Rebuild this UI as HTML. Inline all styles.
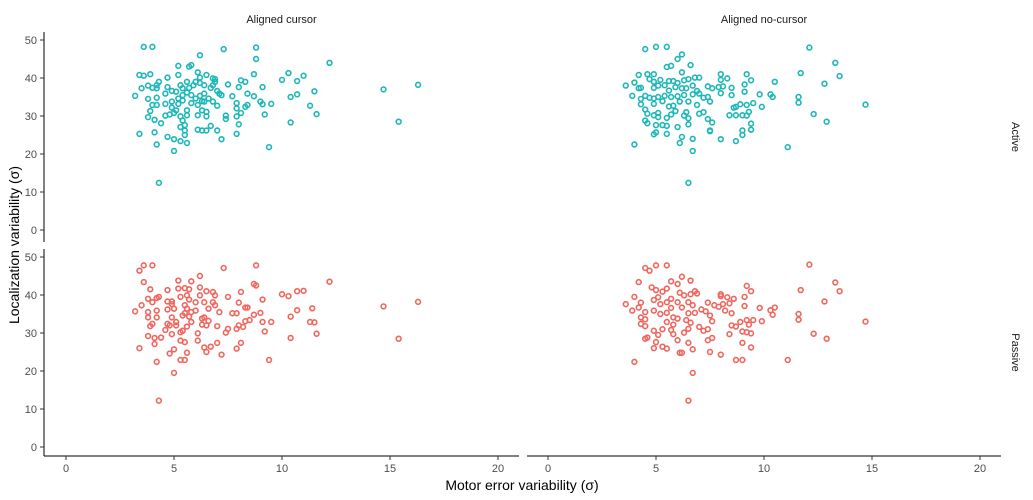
<!DOCTYPE html>
<html><head><meta charset="utf-8">
<style>
body{margin:0;background:#fff;}
svg{display:block;font-family:"Liberation Sans",sans-serif;}
</style></head>
<body>
<svg id="chart" width="1033" height="500">
<g id="static"></g>
<g id="marks"></g>
</svg>
<script>
const xTicks = [0, 5, 10, 15, 20];
const yTicks = [0, 10, 20, 30, 40, 50];
const colNames = ["Aligned cursor", "Aligned no-cursor"];
const rowNames = ["Active", "Passive"];

const cursorX = [3.6,4.0,6.2,7.3,8.8,8.8,5.2,5.7,5.8,3.4,3.6,3.9,3.2,3.5,3.8,4.0,4.2,4.3,4.2,4.7,5.2,6.1,6.2,6.5,6.8,6.9,6.9,7.5,8.1,8.3,8.0,9.1,8.7,10.0,10.3,10.7,11.0,7.7,8.4,8.7,9.0,9.1,9.5,10.4,10.7,11.3,7.9,7.9,8.4,8.3,8.1,7.9,7.4,7.4,9.2,8.0,7.9,7.0,7.2,6.7,6.5,6.1,6.3,9.4,10.4,3.4,4.1,4.2,4.7,5.0,5.0,5.3,5.6,5.5,5.5,5.5,5.3,4.4,4.6,3.8,4.1,3.9,4.0,3.8,4.2,4.2,4.6,4.9,4.9,4.8,5.0,5.1,5.3,5.4,5.6,5.6,4.3,5.3,5.4,5.6,5.7,5.9,6.0,6.2,6.4,6.7,7.0,7.2,5.4,5.6,5.8,6.0,6.2,6.4,6.6,6.8,6.3,6.4,7.0,5.2,5.4,5.8,6.1,6.3,6.5,6.1,6.5,6.8,7.1,4.7,4.9,4.6,5.1,5.2,11.6,12.2,14.7,15.4,16.3,11.5];
const cursorY = [48.2,48.2,46.0,47.6,48.0,45.0,43.2,43.0,43.4,40.8,40.6,41.0,35.3,37.3,38.0,37.4,38.1,39.0,37.3,40.1,40.8,41.5,40.1,40.8,39.9,39.7,39.0,38.3,39.4,39.0,37.6,37.6,41.0,39.5,41.3,39.2,40.6,35.2,35.9,35.2,33.8,33.1,33.2,35.0,35.7,32.7,33.4,32.0,32.9,32.4,30.8,29.9,30.1,29.2,30.4,27.8,25.3,26.2,23.9,27.4,26.2,26.4,26.2,21.8,28.3,25.3,25.7,22.5,24.5,23.9,20.8,23.4,22.9,25.0,26.2,27.6,27.1,28.1,30.1,29.7,29.0,31.3,32.9,34.5,34.8,32.9,33.2,33.8,32.2,30.4,30.8,31.5,29.9,28.8,30.2,31.5,12.4,38.1,37.3,39.0,37.4,38.1,39.0,38.7,38.1,37.4,36.6,35.5,35.5,36.2,35.5,34.6,35.3,35.9,34.6,33.8,33.9,33.8,32.7,34.6,34.1,33.4,32.9,31.5,31.1,30.2,29.9,38.1,35.9,37.6,36.6,35.9,36.4,33.2,30.5,44.0,37.0,28.5,38.2,36.5];

const noCursorX = [4.5,5.0,5.5,6.0,6.2,5.5,5.7,6.6,4.2,4.6,4.9,4.7,4.9,5.2,3.6,4.0,4.2,4.3,3.9,4.3,4.5,4.7,4.9,5.1,4.9,5.1,5.4,5.6,5.8,6.0,6.2,6.3,6.5,6.8,7.0,6.7,6.9,6.4,6.2,5.9,5.6,5.4,5.7,6.0,6.3,6.7,7.0,6.5,6.1,5.8,5.6,5.3,4.9,4.3,4.5,4.6,4.5,4.6,4.9,5.1,5.1,5.5,5.7,5.9,6.3,6.4,6.5,6.5,6.0,5.5,5.3,5.0,5.0,4.9,5.5,6.2,6.1,6.7,6.7,6.5,6.9,7.0,7.2,7.4,7.6,7.2,7.4,7.5,7.4,7.6,7.9,8.0,8.0,8.0,8.3,8.1,8.5,8.5,9.1,9.1,9.2,9.4,10.5,10.3,10.4,9.8,9.9,9.5,9.2,8.9,8.6,8.7,8.4,8.7,9.0,9.2,9.3,9.4,9.4,9.0,9.0,8.7,8.0,7.5,7.5,11.1,11.6,11.6,11.7,12.1,12.3,12.8,13.3,13.5,12.9,14.7,4.0];
const noCursorY = [47.6,48.2,48.2,45.0,46.2,42.9,43.2,43.4,40.8,41.0,41.0,39.7,39.0,39.5,38.0,38.8,37.3,37.4,35.3,34.5,35.3,34.8,34.6,35.0,37.4,38.0,38.1,39.2,39.2,38.7,41.5,39.4,39.7,40.1,40.1,38.0,36.6,37.3,37.3,37.6,36.7,35.3,35.0,35.2,35.5,35.7,35.9,33.8,33.8,32.7,32.5,33.9,33.2,33.1,31.7,30.6,28.8,28.1,30.2,30.8,29.7,29.5,30.4,31.3,30.1,31.0,29.4,27.8,27.1,27.4,27.6,27.6,25.7,25.2,25.3,24.5,22.9,24.0,20.8,12.4,32.9,30.6,31.0,29.2,28.3,34.8,35.0,33.8,37.8,37.3,37.6,36.0,41.0,39.5,39.9,37.8,37.4,35.5,36.4,38.3,41.0,39.4,39.0,35.7,35.0,35.7,32.4,33.4,32.9,33.1,32.2,32.4,30.2,30.2,30.2,30.1,31.1,28.0,26.4,26.2,25.0,23.4,23.9,26.2,26.0,21.8,35.0,33.5,41.3,48.0,30.5,38.5,44.0,40.5,28.5,33.0,22.5];

const passiveCursorX = [3.4,3.6,4.0,7.3,8.8,3.6,5.2,5.8,6.2,8.7,8.8,3.9,4.7,5.2,5.5,5.7,6.2,6.5,6.8,6.9,7.5,8.1,9.1,10.0,10.3,10.7,11.0,3.8,4.2,4.3,4.0,3.2,3.5,3.8,4.2,3.8,4.2,4.0,3.9,3.8,4.1,4.1,3.4,4.2,4.3,4.7,4.9,5.3,4.7,4.9,4.7,4.6,4.4,4.8,4.9,5.1,5.3,5.4,5.3,5.5,4.8,5.0,5.6,5.3,5.5,5.0,6.1,6.1,6.4,6.5,6.7,7.0,7.2,8.1,7.9,7.5,7.4,7.9,8.0,8.2,8.3,8.5,8.7,9.0,9.1,9.2,9.5,10.4,10.7,10.4,9.4,11.3,8.0,8.3,8.4,7.7,7.9,7.1,6.9,6.8,6.6,6.4,6.2,6.0,5.7,5.6,5.5,5.6,5.8,6.0,6.3,6.4,6.6,6.3,6.5,7.0,5.7,5.4,5.8,5.6,5.1,4.9,5.5,5.0,11.6,11.5,12.2,14.7,15.4,16.3,11.4];
const passiveCursorY = [46.4,47.8,47.8,47.1,47.8,43.4,43.8,43.6,45.0,42.9,42.5,41.5,41.3,41.7,41.8,41.5,42.0,41.0,40.8,39.9,39.5,40.8,38.8,40.2,39.7,41.0,41.1,39.0,39.2,39.5,38.1,35.7,37.3,35.5,35.9,34.1,34.1,32.4,31.8,29.2,28.7,27.1,26.0,22.4,12.2,38.3,38.3,39.5,36.2,34.1,32.4,30.8,28.8,32.0,29.7,32.0,30.2,30.6,28.0,27.6,24.6,25.7,24.8,22.9,22.9,19.5,29.9,28.0,26.2,25.0,26.4,27.4,24.3,27.4,25.9,31.1,30.1,31.1,32.0,31.6,33.1,33.4,34.8,35.3,32.9,30.4,32.9,34.3,36.0,28.7,22.9,32.9,38.0,36.7,36.7,35.2,35.2,35.5,37.3,38.1,36.4,38.1,39.9,38.1,38.8,39.9,37.3,36.4,35.5,35.9,33.8,34.1,33.2,32.2,32.0,31.8,34.3,34.6,32.9,31.7,32.9,37.6,35.2,36.4,29.8,32.8,43.5,37.0,28.5,38.2,36.5];

const passiveNoCursorX = [4.5,4.7,5.0,5.5,6.2,4.2,5.7,6.0,6.6,4.8,5.0,5.5,3.6,4.0,4.3,4.2,3.9,4.5,4.3,4.5,4.3,4.5,4.6,4.5,4.9,5.1,5.0,4.9,5.3,5.5,4.0,4.9,5.1,5.3,5.2,5.5,5.7,6.0,6.1,6.3,6.6,6.8,6.9,6.5,6.7,6.2,5.7,5.5,5.2,4.9,5.8,6.0,6.5,6.8,7.1,6.4,6.6,5.8,5.5,5.7,5.3,5.8,6.3,6.5,7.0,7.2,7.4,7.6,7.5,7.3,7.4,7.7,8.0,8.0,8.3,8.1,7.9,8.2,8.4,8.6,8.5,9.1,9.1,9.2,9.4,9.8,9.9,10.3,10.5,10.4,9.2,9.5,9.3,8.9,8.7,8.5,8.4,9.0,9.2,9.4,9.0,9.4,8.7,9.0,8.0,7.5,7.4,7.6,6.7,6.5,6.0,6.1,6.2,6.7,6.5,11.1,11.6,11.6,11.7,12.1,12.3,12.8,13.3,13.5,12.9,14.7];
const passiveNoCursorY = [47.1,46.4,47.8,47.8,44.8,43.4,43.6,42.9,43.8,42.0,41.3,41.7,37.6,39.5,38.0,36.7,35.9,35.5,34.1,33.6,32.4,31.8,28.8,28.5,30.6,29.5,27.6,26.0,26.4,25.9,22.4,38.7,39.4,40.9,37.6,38.1,39.0,38.1,40.6,39.9,40.2,41.0,40.4,38.1,37.3,36.7,36.6,35.3,35.0,35.9,34.1,33.8,35.2,35.3,36.2,33.4,32.7,32.2,32.9,30.8,31.0,29.7,30.1,31.1,31.6,30.6,31.0,33.1,34.6,35.7,38.0,37.3,40.2,39.7,39.4,37.6,36.9,35.9,37.8,39.0,35.2,37.1,39.5,42.4,41.0,36.6,33.1,36.0,36.7,34.8,33.4,33.4,32.2,32.9,31.7,32.0,29.7,30.4,30.2,29.9,27.4,26.2,22.9,22.9,24.3,25.0,28.1,28.7,25.7,27.4,28.1,24.8,24.8,19.5,12.2,22.9,35.0,33.5,41.3,48.0,29.8,38.3,43.3,41.0,28.5,33.0];

const NS = "http://www.w3.org/2000/svg";
const st = document.getElementById("static");
const mk = document.getElementById("marks");
function el(tag, attrs, parent, text){
  const e = document.createElementNS(NS, tag);
  for (const k in attrs) e.setAttribute(k, attrs[k]);
  if (text !== undefined) e.textContent = text;
  parent.appendChild(e);
  return e;
}
const cols = [{x0:66, left:44, right:519}, {x0:548, left:527, right:1001}];
const rows = [{y0:230, top:32, bottom:242}, {y0:447, top:249, bottom:456}];
const xPer = 21.6, yPer = 3.8;
function xScale(c, v){ return cols[c].x0 + v * xPer; }
function yScale(r, v){ return rows[r].y0 - v * yPer; }

colNames.forEach((n, c) => {
  const t = el("text", {x:(cols[c].left+cols[c].right)/2, y:23, "font-size":11, "text-anchor":"middle", fill:"#1a1a1a"}, st, n);
  
  
});
rowNames.forEach((n, r) => {
  const cy = (rows[r].top + rows[r].bottom)/2;
  const t = el("text", {x:1012, y:cy, "font-size":11, "text-anchor":"middle", fill:"#1a1a1a", transform:`rotate(90 1012 ${cy})`}, st, n);
  
  
});
rows.forEach((R, r) => {
  const ax = el("line", {x1:44, x2:44, y1:R.top, y2:R.bottom, stroke:"#000", "stroke-width":1}, st);
  
  
  yTicks.forEach(v => {
    const y = yScale(r, v);
    el("line", {x1:40, x2:44, y1:y, y2:y, stroke:"#333"}, st);
    const t = el("text", {x:37, y:y+4, "font-size":11, "text-anchor":"end", fill:"#4d4d4d"}, st, v);
    
    
  });
});
cols.forEach((C, c) => {
  const ax = el("line", {x1:C.left, x2:C.right, y1:456, y2:456, stroke:"#000", "stroke-width":1}, st);
  
  
  xTicks.forEach(v => {
    const x = xScale(c, v);
    el("line", {x1:x, x2:x, y1:456, y2:460, stroke:"#333"}, st);
    const t = el("text", {x:x, y:472, "font-size":11, "text-anchor":"middle", fill:"#4d4d4d"}, st, v);
    
    
  });
});
const xt = el("text", {x:522, y:490, "font-size":14, "text-anchor":"middle", fill:"#000"}, st, "Motor error variability (σ)");


const yt = el("text", {x:19, y:245, "font-size":14, "text-anchor":"middle", fill:"#000", transform:"rotate(-90 19 245)"}, st, "Localization variability (σ)");



const panels = [
  {c:0, r:0, xs:cursorX, ys:cursorY, color:"#1db7b9"},
  {c:1, r:0, xs:noCursorX, ys:noCursorY, color:"#1db7b9"},
  {c:0, r:1, xs:passiveCursorX, ys:passiveCursorY, color:"#f0665e"},
  {c:1, r:1, xs:passiveNoCursorX, ys:passiveNoCursorY, color:"#f0665e"}
];
panels.forEach(p => {
  p.xs.forEach((xv, i) => {
    const pt = el("circle", {cx:xScale(p.c, xv), cy:yScale(p.r, p.ys[i]), r:2.4, fill:"none", stroke:p.color, "stroke-width":1.6}, mk);
    
    
  });
});
</script>
</body></html>
